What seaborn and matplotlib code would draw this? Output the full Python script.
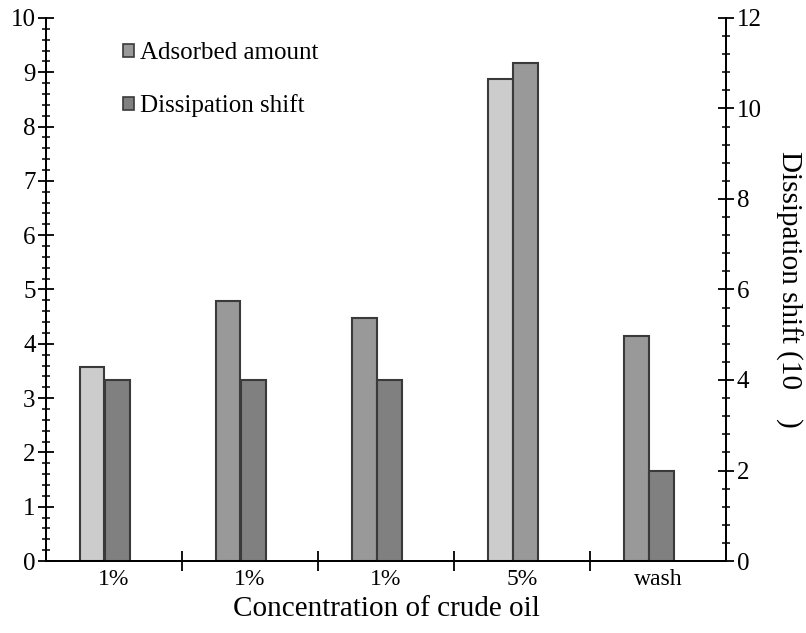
import matplotlib
matplotlib.use("Agg")
import matplotlib.pyplot as plt
from matplotlib.patches import Patch
from matplotlib.ticker import MultipleLocator
import pandas as pd
import seaborn as sns

sns.set_style("ticks")
plt.rcParams['font.family'] = ['Liberation Serif', 'DejaVu Serif']
plt.rcParams['text.color'] = 'black'
plt.rcParams['axes.labelcolor'] = 'black'
plt.rcParams['xtick.color'] = 'black'
plt.rcParams['ytick.color'] = 'black'

# values
labels = ["1%", "1%", "1%", "5%", "wash"]
adsorbed = [3.57, 4.78, 4.48, 8.88, 4.15]        # left axis
dissipation = [4.0, 4.0, 4.0, 11.0, 2.0]         # right axis
ads_colors = ["#cccccc", "#999999", "#999999", "#cccccc", "#999999"]
dis_colors = ["#808080", "#808080", "#808080", "#999999", "#808080"]
groups = ["g%d" % i for i in range(len(labels))]

df = pd.DataFrame({"group": groups, "adsorbed": adsorbed, "dissipation": dissipation})

fig = plt.figure(figsize=(8.06, 6.33), dpi=100)
ax = fig.add_axes([0.057, 0.1137, 0.844, 0.858])
ax2 = ax.twinx()

edge = "#3a3a3a"
sns.barplot(data=df, x="group", y="adsorbed", hue="group", dodge=False,
            palette=dict(zip(groups, ads_colors)), saturation=1, width=0.18,
            edgecolor=edge, linewidth=1.5, legend=False, ax=ax)
sns.barplot(data=df, x="group", y="dissipation", hue="group", dodge=False,
            palette=dict(zip(groups, dis_colors)), saturation=1, width=0.18,
            edgecolor=edge, linewidth=1.5, legend=False, ax=ax2)

# pair sits a little left of the category centre
for p in ax.patches:
    p.set_x(p.get_x() - 0.16)
for p in ax2.patches:
    p.set_x(p.get_x() + 0.025)

ax.set_xlim(-0.5, 4.5)
ax.set_ylim(0, 10)
ax2.set_ylim(0, 12)

ax.yaxis.set_major_locator(MultipleLocator(1))
ax.yaxis.set_minor_locator(MultipleLocator(0.2))
ax2.yaxis.set_major_locator(MultipleLocator(2))
ax2.yaxis.set_minor_locator(MultipleLocator(0.4))

ax.set_xticks([0.5, 1.5, 2.5, 3.5], labels=[""] * 4)
ax.set_xticks(range(len(labels)), labels=labels, minor=True)
ax.tick_params(axis="x", which="minor", length=0, labelsize=17, pad=6)
ax.tick_params(axis="x", which="major", direction="inout", length=14, width=1.3)

for a in (ax, ax2):
    a.tick_params(axis="y", which="major", direction="inout", length=11, width=1.3, labelsize=18, pad=2)
    a.tick_params(axis="y", which="minor", direction="inout", length=6, width=1.1)
    a.spines["top"].set_visible(False)
    for s in ("left", "right", "bottom"):
        a.spines[s].set_linewidth(1.3)
        a.spines[s].set_color("black")

ax.set_ylabel("")
ax.set_xlabel("Concentration of crude oil", fontsize=21, labelpad=4)
ax2.set_ylabel("Dissipation shift (10    )", fontsize=21, rotation=270, va="center")
ax2.yaxis.set_label_coords(1.092, 0.5)

handles = [Patch(facecolor="#999999", edgecolor=edge, linewidth=1.2),
           Patch(facecolor="#808080", edgecolor=edge, linewidth=1.2)]
ax2.legend(handles=handles, labels=["Adsorbed amount", "Dissipation shift"],
           loc="upper left", bbox_to_anchor=(0.113, 0.955), frameon=False,
           fontsize=18, handlelength=0.45, handleheight=0.45, handletextpad=0.25,
           labelspacing=1.2, borderpad=0, borderaxespad=0)

fig.savefig("out.png", dpi=100)
